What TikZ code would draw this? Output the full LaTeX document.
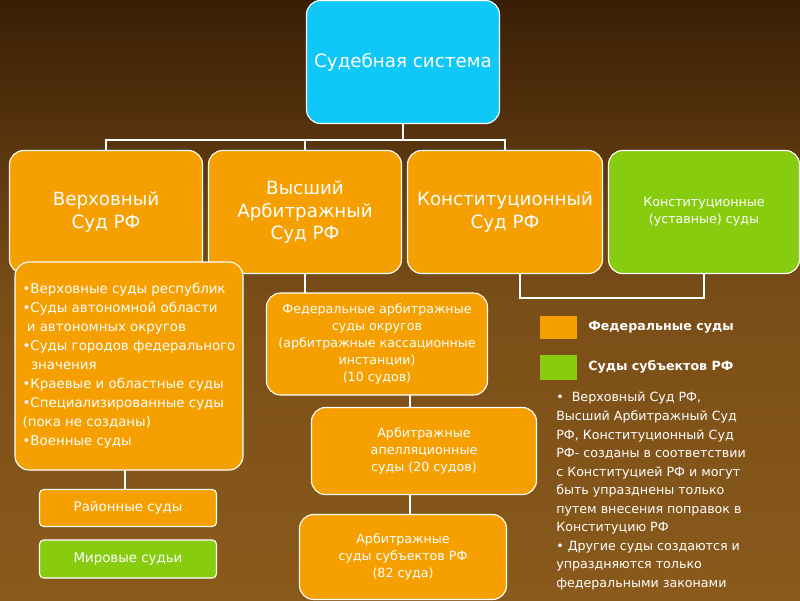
\documentclass[tikz,border=0pt]{standalone}
\usepackage{fontspec}
\setmainfont{DejaVu Sans}
\usetikzlibrary{positioning}
\definecolor{bgdark}{HTML}{3A1E05}
\definecolor{bglight}{HTML}{8A5A1C}
\definecolor{courtorange}{HTML}{F5A000}
\definecolor{courtcyan}{HTML}{10C8F8}
\definecolor{courtgreen}{HTML}{88CC10}
\tikzset{
  court/.style={rounded corners=10pt, draw=white, line width=0.8pt, fill=courtorange,
    text=white, align=center, inner sep=2pt},
  subject/.style={court, fill=courtgreen},
  link/.style={draw=white, line width=2pt},
}
\begin{document}
\begin{tikzpicture}[x=0.025cm, y=-0.025cm]
  \shade[top color=bgdark, bottom color=bglight, middle color=bglight!80!bgdark] (0,0) rectangle (800,600);
  \useasboundingbox (0,0) rectangle (800,600);

  \node[court, fill=courtcyan, minimum width=193*0.025cm, minimum height=123*0.025cm, font=\fontsize{13}{15}\selectfont] (sys) at (403,62) {Судебная система};

  \node[court, minimum width=193*0.025cm, minimum height=123*0.025cm, font=\fontsize{13}{16}\selectfont] (vs) at (106,212) {Верховный\\Суд РФ};
  \node[court, minimum width=193*0.025cm, minimum height=123*0.025cm, font=\fontsize{13}{16}\selectfont] (vas) at (305,212) {Высший\\Арбитражный\\Суд РФ};
  \node[court, minimum width=195*0.025cm, minimum height=123*0.025cm, font=\fontsize{13}{16}\selectfont] (ks) at (505,212) {Конституционный\\Суд РФ};
  \node[subject, minimum width=191*0.025cm, minimum height=123*0.025cm, font=\fontsize{9}{12}\selectfont] (kus) at (704,212) {Конституционные\\ (уставные) суды};

  % links from the top box
  \draw[link] (sys.south) -- (403,140) coordinate (hub);
  \draw[link] (vs.north) |- (hub) -| (ks.north);
  \draw[link] (vas.north) -- (vas.north |- hub);
  \draw[link] (520,273) -- (520,298) -| (kus.south);

  % Verkhovny branch
  \draw[link] (vs.south) ++(19,0) -- (125,490);
  \node[court, minimum width=228*0.025cm, minimum height=208*0.025cm, align=left, font=\fontsize{9.5}{13.5}\selectfont] (regions) at (129,366)
    {•Верховные суды республик\\•Суды автономной области\\\ и автономных округов\\•Суды городов федерального\\\ \ значения\\•Краевые и областные суды\\•Специализированные суды\\(пока не созданы)\\•Военные суды};
  \node[court, rounded corners=3pt, minimum width=177*0.025cm, minimum height=37*0.025cm, font=\fontsize{9.5}{12}\selectfont] (district) at (128,508) {Районные суды};
  \node[subject, rounded corners=3pt, minimum width=177*0.025cm, minimum height=38*0.025cm, font=\fontsize{9.5}{12}\selectfont] (peace) at (128,559) {Мировые судьи};

  % arbitrazh branch
  \draw[link] (vas.south) -- (305,293);
  \draw[link] (410,395) -- (410,408);
  \draw[link] (410,495) -- (410,515);
  \node[court, minimum width=221*0.025cm, minimum height=102*0.025cm, font=\fontsize{9}{12}\selectfont] (fas) at (377,344)
    {Федеральные арбитражные\\суды округов\\(арбитражные кассационные\\инстанции)\\(10 судов)};
  \node[court, minimum width=225*0.025cm, minimum height=87*0.025cm, font=\fontsize{9}{12}\selectfont] (appeal) at (424,451)
    {Арбитражные\\апелляционные\\суды (20 судов)};
  \node[court, minimum width=207*0.025cm, minimum height=85*0.025cm, font=\fontsize{9}{12}\selectfont] (subj) at (403,557)
    {Арбитражные\\суды субъектов РФ\\(82 суда)};

  % legend
  \node[fill=courtorange, minimum width=37*0.025cm, minimum height=23*0.025cm, inner sep=0pt] (legfed) at (558,327) {};
  \node[right=8pt of legfed, text=white, font=\fontsize{9}{11}\selectfont\bfseries, inner sep=0pt] {Федеральные суды};
  \node[fill=courtgreen, minimum width=37*0.025cm, minimum height=25*0.025cm, inner sep=0pt] (legsub) at (558,367) {};
  \node[right=8pt of legsub, text=white, font=\fontsize{9}{11}\selectfont\bfseries, inner sep=0pt] {Суды субъектов РФ};

  \node[text=white, align=left, anchor=north west, inner sep=0pt, font=\fontsize{9}{13.2}\selectfont] (note) at (556,392)
    {•\ \ Верховный Суд РФ,\\Высший Арбитражный Суд\\РФ, Конституционный Суд\\РФ- созданы в соответствии\\с Конституцией РФ и могут\\быть упразднены только\\путем внесения поправок в\\Конституцию РФ\\• Другие суды создаются и\\упраздняются только\\федеральными законами};
\end{tikzpicture}
\end{document}
